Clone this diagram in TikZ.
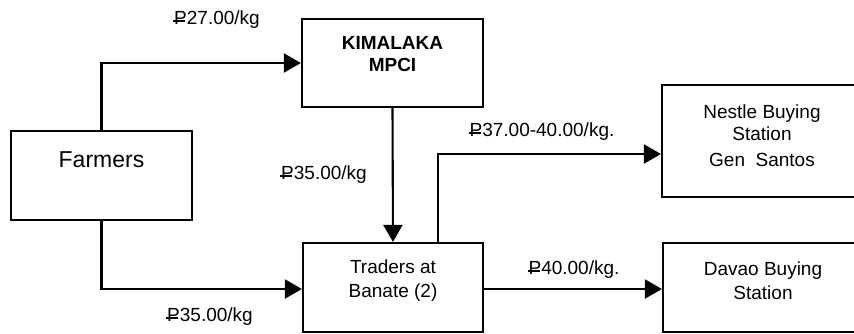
\documentclass[tikz,border=0pt]{standalone}
\usepackage{fontspec}
\setmainfont{Liberation Sans}
\usetikzlibrary{arrows.meta}

% Philippine peso sign: a P with a bar through its stem
\newcommand\pesosign{\makebox[0pt][l]{\hspace{-0.05em}\rule[0.17em]{0.64em}{0.1em}}P}

\tikzset{
  box/.style={draw, line width=2.2pt, rectangle, inner sep=0pt},
  boxtext/.style={font=\fontsize{19}{24}\selectfont, align=center, inner sep=0pt},
  price/.style={font=\fontsize{19}{24}\selectfont, inner sep=0pt},
  flow/.style={line width=2.1pt, -{Triangle[length=17pt,width=19pt]}},
}

\begin{document}
\begin{tikzpicture}[x=1pt, y=-1pt]
  \useasboundingbox (0,0) rectangle (854,333);
  \clip (0,0) rectangle (854,333);

  % boxes
  \node[box, minimum width=181pt, minimum height=89pt,
        label={[boxtext, name=farmers-t, font=\fontsize{23}{28}\selectfont, yshift=15.5pt]center:Farmers}]
        (farmers) at (101.5,175.5) {};
  \node[box, minimum width=181pt, minimum height=88pt,
        label={[boxtext, name=kim-t, font=\bfseries\fontsize{19}{22}\selectfont, yshift=9pt]center:KIMALAKA\\MPCI}]
        (kim) at (392.5,63) {};
  \node[box, minimum width=180pt, minimum height=89pt,
        label={[boxtext, name=traders-t, yshift=7pt]center:Traders at\\Banate (2)}]
        (traders) at (393,287.5) {};
  \node[box, minimum width=200pt, minimum height=112pt,
        label={[boxtext, name=nestle-t, font=\fontsize{19}{22}\selectfont, yshift=5pt]center:Nestle Buying\\Station\\[4pt]Gen\ \ Santos}]
        (nestle) at (762,141) {};
  \node[box, minimum width=200pt, minimum height=89pt,
        label={[boxtext, name=davao-t, yshift=7pt]center:Davao Buying\\Station}]
        (davao) at (763,287.5) {};

  % flows
  \draw[flow] (farmers.north) |- (kim.west);
  \draw[flow] (farmers.south) |- ([yshift=-1.5pt]traders.west);
  \draw[flow] (kim.south) -- (traders.north);
  \draw[flow] ([xshift=45pt]traders.north) |- ([yshift=-13pt]nestle.west);
  \draw[flow] ([yshift=-1.5pt]traders.east) -- ([yshift=-1.5pt]traders.east -| davao.west);

  % prices
  \node[price] (p1) at (217,20) {\pesosign27.00/kg};
  \node[price] (p2) at (324,175) {\pesosign35.00/kg};
  \node[price] (p3) at (542,132) {\pesosign37.00-40.00/kg.};
  \node[price] (p4) at (210,317) {\pesosign35.00/kg};
  \node[price] (p5) at (574,270) {\pesosign40.00/kg.};
\end{tikzpicture}
\end{document}
